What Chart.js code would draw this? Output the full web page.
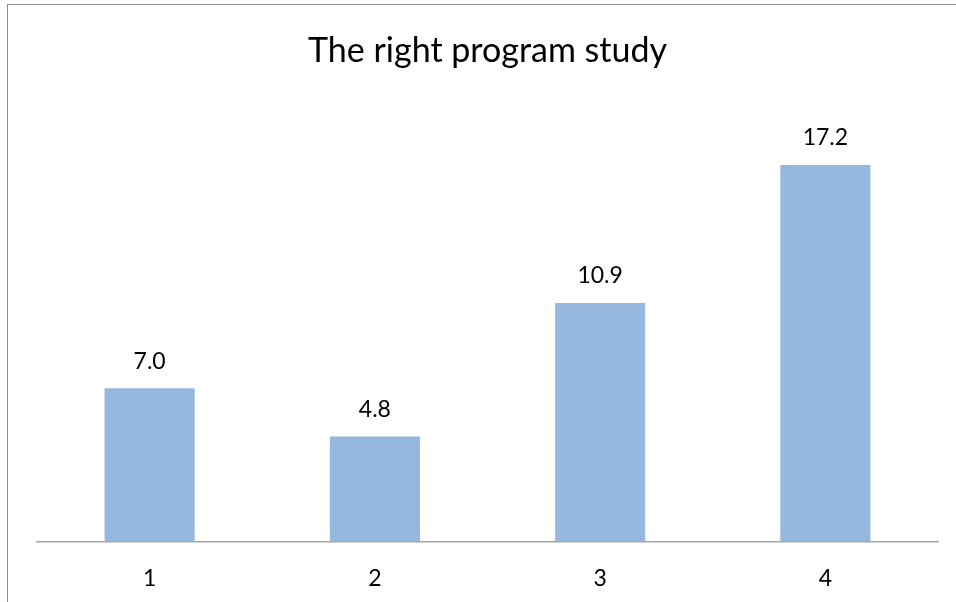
<!DOCTYPE html>
<html>
<head>
<meta charset="utf-8">
<script src="https://cdn.jsdelivr.net/npm/chart.js@4"></script>
<style>
  html, body { margin: 0; padding: 0; background: #fff; }
  #wrap { position: relative; width: 956px; height: 602px; overflow: hidden; }
  #frame { position: absolute; left: 7px; top: 4px; width: 1000px; height: 700px; border: 1px solid #8c8c8c; }
  canvas { position: absolute; left: 0; top: 0; }
</style>
</head>
<body>
<div id="wrap">
  <div id="frame"></div>
  <canvas id="chart" width="956" height="602"></canvas>
</div>
<script>
const categories = ["1", "2", "3", "4"];
const studyValues = [7.0, 4.8, 10.9, 17.2];

// draw the value above each bar
const valueLabels = {
  id: "valueLabels",
  afterDatasetsDraw(chart) {
    const ctx = chart.ctx;
    const meta = chart.getDatasetMeta(0);
    ctx.save();
    ctx.font = "23px Lato, sans-serif";
    ctx.fillStyle = "#000";
    ctx.textAlign = "center";
    ctx.textBaseline = "middle";
    meta.data.forEach((bar, i) => {
      ctx.fillText(studyValues[i].toFixed(1), bar.x, bar.y - 27);
    });
    ctx.restore();
  },
};

const ctx = document.getElementById("chart").getContext("2d");
new Chart(ctx, {
  type: "bar",
  data: {
    labels: categories,
    datasets: [
      {
        data: studyValues,
        backgroundColor: "#96b8df",
        barPercentage: 0.4,
        categoryPercentage: 1.0,
      },
    ],
  },
  options: {
    responsive: false,
    animation: false,
    layout: {
      padding: { left: 37, right: 18, top: 0, bottom: -5 },
    },
    plugins: {
      legend: { display: false },
      tooltip: { enabled: false },
      title: {
        display: true,
        text: "The right program study",
        color: "#000",
        font: { family: "Lato, sans-serif", size: 34, weight: "normal" },
        padding: { top: 31, bottom: 32 },
      },
    },
    scales: {
      x: {
        grid: { display: false },
        border: { color: "#a6a6a6", width: 1.5 },
        ticks: {
          color: "#000",
          font: { family: "Lato, sans-serif", size: 23 },
          padding: 15,
        },
      },
      y: {
        display: false,
        min: 0,
        max: 20,
      },
    },
  },
  plugins: [valueLabels],
});
</script>
</body>
</html>
